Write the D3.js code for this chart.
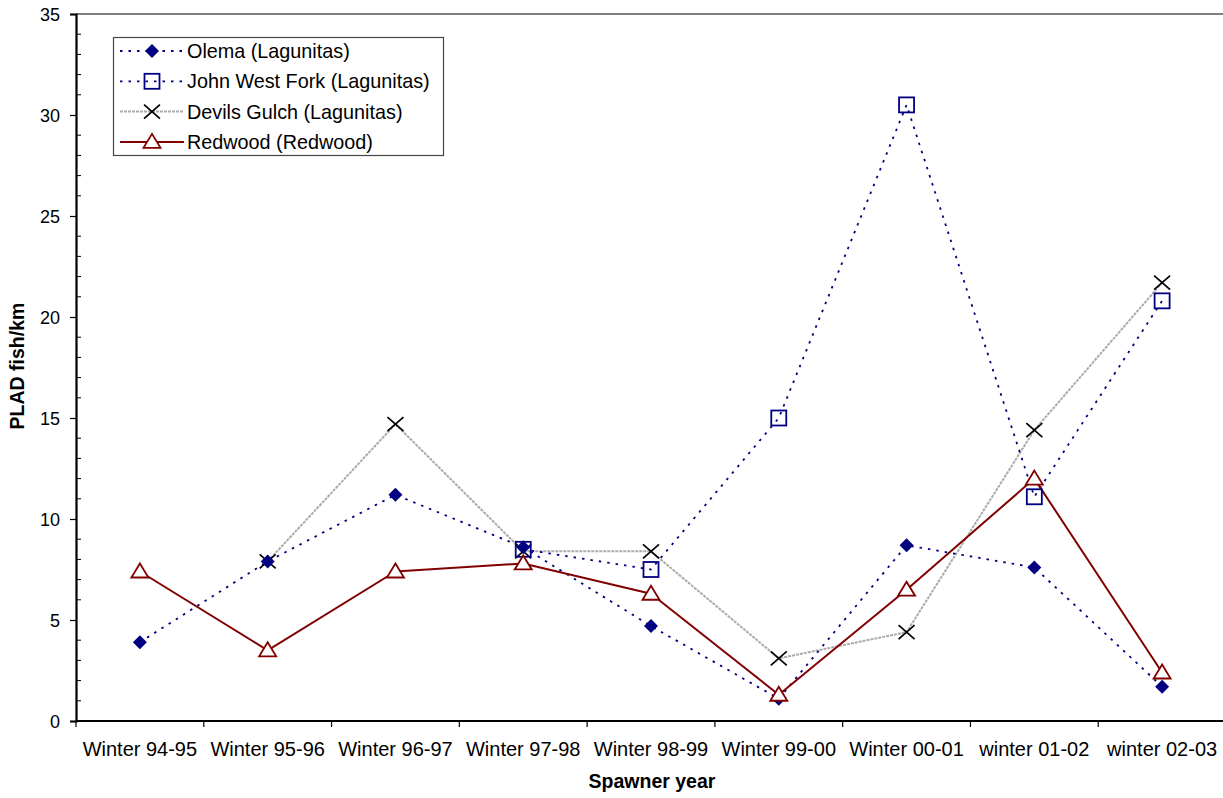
<!DOCTYPE html>
<html>
<head>
<meta charset="utf-8">
<script src="https://cdn.jsdelivr.net/npm/d3@7"></script>
<style>
  html, body { margin: 0; padding: 0; background: #fff; }
  svg { display: block; font-family: "Liberation Sans", Arial, sans-serif; }
</style>
</head>
<body>
<svg id="chart" width="1223" height="798"></svg>
<script>
// Spawner years on the x axis
const categories = ["Winter 94-95", "Winter 95-96", "Winter 96-97", "Winter 97-98", "Winter 98-99",
                    "Winter 99-00", "Winter 00-01", "winter 01-02", "winter 02-03"];

// PLAD fish/km per stream (null = no survey that year)
const olema      = [3.9, 7.9, 11.2, 8.6, 4.7, 1.1, 8.7, 7.6, 1.7];
const johnWest   = [null, null, null, 8.5, 7.5, 15.0, 30.5, 11.1, 20.8];
const devilsGulch = [null, 7.9, 14.7, 8.4, 8.4, 3.1, 4.4, 14.4, 21.7];
const redwood    = [7.4, 3.5, 7.4, 7.8, 6.3, 1.3, 6.5, 12.0, 2.4];

const yTicks = [0, 5, 10, 15, 20, 25, 30, 35];

const seriesNames = ["Olema (Lagunitas)", "John West Fork (Lagunitas)", "Devils Gulch (Lagunitas)", "Redwood (Redwood)"];

const series = [
  { name: seriesNames[0], values: olema,       stroke: "#000080", width: 1.8, dash: "2.5,6", marker: "diamond", mColor: "#000080" },
  { name: seriesNames[1], values: johnWest,    stroke: "#000080", width: 1.8, dash: "2.5,6", marker: "square",  mColor: "#000080" },
  { name: seriesNames[2], values: devilsGulch, stroke: "#ababab", width: 2,   dash: "3,1",   marker: "cross",   mColor: "#000000" },
  { name: seriesNames[3], values: redwood,     stroke: "#800000", width: 2,   dash: null,    marker: "triangle", mColor: "#800000" }
];

const svg = d3.select("#chart");
const plot = { left: 76, right: 1226, top: 14, bottom: 721 };

const x = d3.scaleBand().domain(categories).range([plot.left, plot.right]).padding(0);
const y = d3.scaleLinear().domain([0, 35]).range([plot.bottom, plot.top]);
const cx = c => x(c) + x.bandwidth() / 2;

// plot frame (top / right)
svg.append("path")
  .attr("d", `M${plot.left},${plot.top}H${plot.right}V${plot.bottom}`)
  .attr("fill", "none").attr("stroke", "#000").attr("stroke-width", 1.2);

// y axis: labelled major ticks outside, minor ticks inside
const yAxis = svg.append("g").attr("transform", `translate(${plot.left},0)`)
  .call(d3.axisLeft(y).tickValues(yTicks).tickSize(6).tickPadding(10).tickFormat(d3.format("d")));
yAxis.select(".domain").attr("stroke-width", 2.2);
yAxis.selectAll(".tick line").attr("stroke-width", 1.2);
yAxis.selectAll("text").attr("font-size", 18).attr("fill", "#000").attr("dy", "0.36em");

svg.append("g").selectAll("line")
  .data(d3.range(0, 36).filter(v => v % 5 !== 0))
  .join("line")
  .attr("x1", plot.left).attr("x2", plot.left + 5)
  .attr("y1", d => y(d)).attr("y2", d => y(d))
  .attr("stroke", "#000").attr("stroke-width", 1);

// x axis with ticks at category boundaries
const xAxis = svg.append("g").attr("transform", `translate(0,${plot.bottom})`);
xAxis.append("line").attr("x1", plot.left).attr("x2", plot.right)
  .attr("stroke", "#000").attr("stroke-width", 2.2);
xAxis.selectAll("line.tk").data(categories).join("line").attr("class", "tk")
  .attr("x1", d => x(d)).attr("x2", d => x(d)).attr("y1", 0).attr("y2", 6)
  .attr("stroke", "#000").attr("stroke-width", 1.2);
xAxis.selectAll("text").data(categories).join("text")
  .attr("x", d => cx(d)).attr("y", 35)
  .attr("text-anchor", "middle").attr("font-size", 20).attr("fill", "#000")
  .text(d => d);

// axis titles
svg.append("text").attr("x", 652).attr("y", 788).attr("text-anchor", "middle")
  .attr("font-size", 19.5).attr("font-weight", "bold").text("Spawner year");
svg.append("text").attr("transform", "translate(24,366) rotate(-90)").attr("text-anchor", "middle")
  .attr("font-size", 19.5).attr("font-weight", "bold").text("PLAD fish/km");

// marker drawing
function drawMarker(g, type, px, py, color) {
  if (type === "diamond") {
    g.append("path").attr("d", `M${px},${py - 7}L${px + 7},${py}L${px},${py + 7}L${px - 7},${py}Z`)
      .attr("fill", color);
  } else if (type === "square") {
    g.append("rect").attr("x", px - 7.5).attr("y", py - 7.5).attr("width", 15).attr("height", 15)
      .attr("fill", "none").attr("stroke", color).attr("stroke-width", 1.8);
  } else if (type === "cross") {
    g.append("path").attr("d", `M${px - 8},${py - 7}L${px + 8},${py + 7}M${px - 8},${py + 7}L${px + 8},${py - 7}`)
      .attr("stroke", color).attr("stroke-width", 1.7).attr("fill", "none");
  } else if (type === "triangle") {
    g.append("path").attr("d", `M${px},${py - 8}L${px + 8.5},${py + 6}L${px - 8.5},${py + 6}Z`)
      .attr("fill", "#fff").attr("stroke", color).attr("stroke-width", 1.8);
  }
}

const line = d3.line().defined(d => d.v !== null).x(d => cx(d.c)).y(d => y(d.v));

// lines first, then markers on top
const drawOrder = [2, 0, 1, 3];
drawOrder.forEach(i => {
  const s = series[i];
  const pts = categories.map((c, k) => ({ c, v: s.values[k] }));
  svg.append("path").datum(pts).attr("d", line)
    .attr("fill", "none").attr("stroke", s.stroke).attr("stroke-width", s.width)
    .attr("stroke-dasharray", s.dash).attr("stroke-linejoin", "round");
});
drawOrder.forEach(i => {
  const s = series[i];
  const g = svg.append("g");
  categories.forEach((c, k) => {
    if (s.values[k] !== null) drawMarker(g, s.marker, cx(c), y(s.values[k]), s.mColor);
  });
});

// legend
const lg = svg.append("g");
lg.append("rect").attr("x", 113.5).attr("y", 37.5).attr("width", 330).attr("height", 118)
  .attr("fill", "#fff").attr("stroke", "#444").attr("stroke-width", 1.2);
series.forEach((s, i) => {
  const ly = 51 + i * 30.3;
  lg.append("line").attr("x1", 120).attr("x2", 184).attr("y1", ly).attr("y2", ly)
    .attr("stroke", s.stroke).attr("stroke-width", s.width).attr("stroke-dasharray", s.dash);
  drawMarker(lg, s.marker, 152, ly, s.mColor);
  lg.append("text").attr("x", 187).attr("y", ly + 7).attr("font-size", 19.8).attr("fill", "#000").text(s.name);
});
</script>
</body>
</html>
